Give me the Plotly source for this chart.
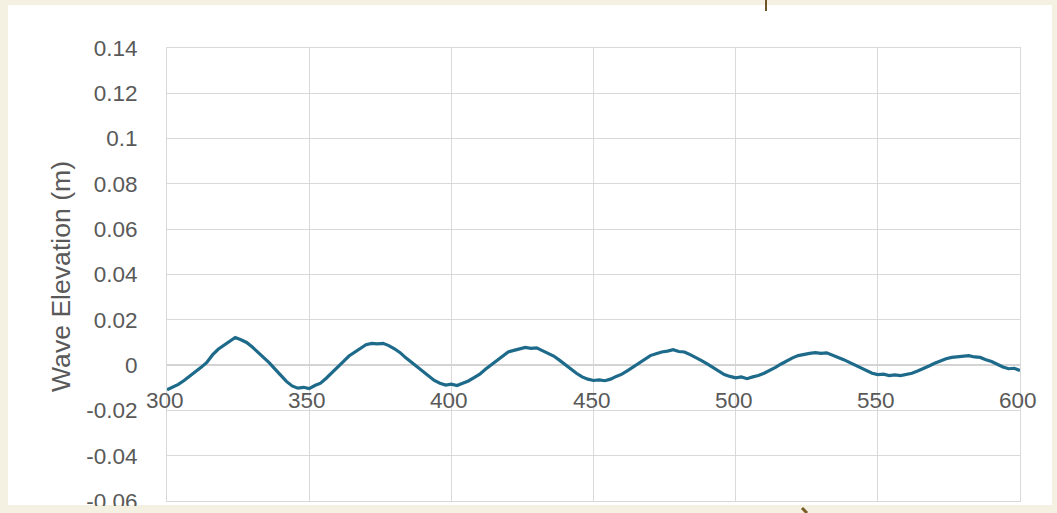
import plotly.graph_objects as go

# ---- data ----
time_s = [300, 302, 304, 306, 308, 310, 312, 314, 316, 318, 320, 322, 324, 326, 328, 330,
          332, 334, 336, 338, 340, 342, 344, 346, 348, 350, 352, 354, 356, 358, 360, 362,
          364, 366, 368, 370, 372, 374, 376, 378, 380, 382, 384, 386, 388, 390, 392, 394,
          396, 398, 400, 402, 404, 406, 408, 410, 412, 414, 416, 418, 420, 422, 424, 426,
          428, 430, 432, 434, 436, 438, 440, 442, 444, 446, 448, 450, 452, 454, 456, 458,
          460, 462, 464, 466, 468, 470, 472, 474, 476, 478, 480, 482, 484, 486, 488, 490,
          492, 494, 496, 498, 500, 502, 504, 506, 508, 510, 512, 514, 516, 518, 520, 522,
          524, 526, 528, 530, 532, 534, 536, 538, 540, 542, 544, 546, 548, 550, 552, 554,
          556, 558, 560, 562, 564, 566, 568, 570, 572, 574, 576, 578, 580, 582, 584, 586,
          588, 590, 592, 594, 596, 598, 600]
elevation_m = [-0.0109, -0.0097, -0.0085, -0.0068, -0.0050, -0.0030, -0.0010, 0.0012,
               0.0045, 0.0070, 0.0088, 0.0105, 0.0122, 0.0112, 0.0100, 0.0080,
               0.0058, 0.0035, 0.0010, -0.0018, -0.0045, -0.0072, -0.0092, -0.0102,
               -0.0098, -0.0104, -0.0090, -0.0080, -0.0058, -0.0035, -0.0010, 0.0015,
               0.0040, 0.0058, 0.0075, 0.0090, 0.0096, 0.0094, 0.0096, 0.0086,
               0.0072, 0.0055, 0.0032, 0.0012, -0.0010, -0.0032, -0.0052, -0.0068,
               -0.0080, -0.0088, -0.0084, -0.0090, -0.0080, -0.0070, -0.0055, -0.0040,
               -0.0018, 0.0002, 0.0020, 0.0040, 0.0058, 0.0065, 0.0072, 0.0078,
               0.0074, 0.0076, 0.0064, 0.0052, 0.0040, 0.0022, 0.0002, -0.0018,
               -0.0036, -0.0052, -0.0062, -0.0068, -0.0065, -0.0069, -0.0062, -0.0050,
               -0.0040, -0.0024, -0.0008, 0.0010, 0.0028, 0.0042, 0.0050, 0.0058,
               0.0062, 0.0068, 0.0060, 0.0058, 0.0046, 0.0034, 0.0020, 0.0005,
               -0.0012, -0.0028, -0.0042, -0.0050, -0.0056, -0.0052, -0.0060, -0.0052,
               -0.0046, -0.0036, -0.0024, -0.0010, 0.0005, 0.0020, 0.0032, 0.0042,
               0.0048, 0.0052, 0.0055, 0.0052, 0.0054, 0.0044, 0.0036, 0.0024,
               0.0012, 0.0000, -0.0014, -0.0026, -0.0036, -0.0042, -0.0040, -0.0046,
               -0.0043, -0.0046, -0.0040, -0.0036, -0.0026, -0.0016, -0.0004, 0.0008,
               0.0018, 0.0028, 0.0034, 0.0036, 0.0038, 0.0042, 0.0036, 0.0034,
               0.0024, 0.0016, 0.0004, -0.0008, -0.0016, -0.0014, -0.0024]

x_ticks = [300, 350, 400, 450, 500, 550, 600]
x_tick_text = ["300", "350", "400", "450", "500", "550", "600"]
y_ticks = [0.14, 0.12, 0.10, 0.08, 0.06, 0.04, 0.02, 0.0, -0.02, -0.04, -0.06]
y_tick_text = ["0.14", "0.12", "0.1", "0.08", "0.06", "0.04", "0.02", "0",
               "-0.02", "-0.04", "-0.06"]
y_title = "Wave Elevation (m)"

# ---- styling ----
W, H = 1057, 513
L, R, T, B = 167, 37, 48, 12
pw, ph = W - L - R, H - T - B
FONT = "Liberation Sans, Arial, sans-serif"
TXT = "#595959"
GRID = "#d9d9d9"
BEIGE = "#f4f1e3"


def px_x(p):
    return (p - L) / pw


def px_y(p):
    return (H - B - p) / ph


fig = go.Figure()
fig.add_trace(go.Scatter(x=time_s, y=elevation_m, mode="lines",
                         line=dict(color="#1d6a8a", width=3.2),
                         hoverinfo="x+y", showlegend=False))

shapes = [
    # white card
    dict(type="rect", xref="paper", yref="paper", layer="below",
         x0=px_x(8), x1=px_x(1052), y0=px_y(505), y1=px_y(5),
         fillcolor="white", line=dict(width=0)),
    # beige strip clipping the bottom label
    dict(type="rect", xref="paper", yref="paper", layer="above",
         x0=px_x(0), x1=px_x(W), y0=px_y(H + 2), y1=px_y(506),
         fillcolor=BEIGE, line=dict(width=0)),
    # small paper-texture marks
    dict(type="line", xref="paper", yref="paper", layer="above",
         x0=px_x(766), x1=px_x(766), y0=px_y(0), y1=px_y(11),
         line=dict(color="#6e5424", width=2)),
    dict(type="line", xref="paper", yref="paper", layer="above",
         x0=px_x(802), x1=px_x(807), y0=px_y(508), y1=px_y(513),
         line=dict(color="#7a5c26", width=3)),
]

annotations = [
    dict(x=v, y=-0.0158, xref="x", yref="y", text=t, showarrow=False,
         xanchor="center", yanchor="middle", xshift=-2,
         font=dict(family=FONT, size=22.5, color=TXT))
    for v, t in zip(x_ticks, x_tick_text)
]
annotations.append(dict(x=px_x(61), y=px_y(277), xref="paper", yref="paper",
                        text=y_title, textangle=-90, showarrow=False,
                        xanchor="center", yanchor="middle",
                        font=dict(family=FONT, size=26.6, color=TXT)))

fig.update_layout(
    width=W, height=H,
    margin=dict(l=L, r=R, t=T, b=B, pad=0, autoexpand=False),
    paper_bgcolor=BEIGE, plot_bgcolor="white",
    font=dict(family=FONT, size=22.5, color=TXT),
    shapes=shapes, annotations=annotations,
    xaxis=dict(range=[300, 600], tickvals=x_ticks, showticklabels=False,
               showgrid=True, gridcolor=GRID, gridwidth=1,
               showline=True, linecolor=GRID, linewidth=1, mirror=True,
               zeroline=False, ticks="", automargin=False),
    yaxis=dict(range=[-0.06, 0.14], tickvals=y_ticks, ticktext=y_tick_text,
               showgrid=True, gridcolor=GRID, gridwidth=1,
               showline=True, linecolor=GRID, linewidth=1, mirror=True,
               zeroline=True, zerolinecolor="#d4d4d4", zerolinewidth=2,
               ticks="", ticklabelstandoff=24, ticklabeloverflow="allow",
               automargin=False,
               tickfont=dict(family=FONT, size=22.5, color=TXT)),
)

page_fix = ("document.body.style.margin='0';"
            "document.body.style.padding='0';"
            "document.body.style.overflow='hidden';"
            "document.body.style.background='" + BEIGE + "';")
fig.write_html("out.html", post_script=page_fix,
               config={"displayModeBar": False})
